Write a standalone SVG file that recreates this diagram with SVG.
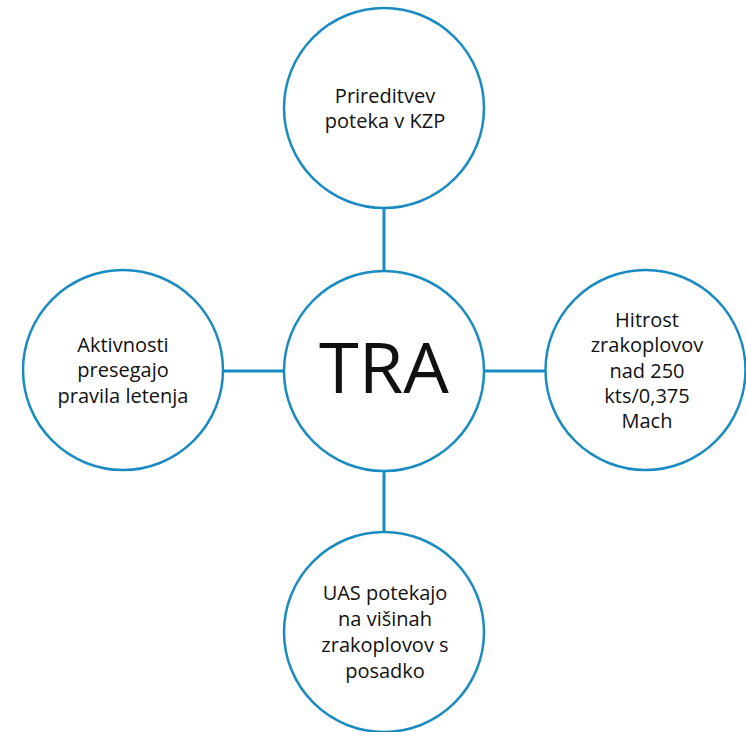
<svg xmlns="http://www.w3.org/2000/svg" width="746" height="732" viewBox="0 0 746 732">
<style>
.c{fill:#fff;stroke:#1a8bc1;stroke-width:2.5}
.l{stroke:#1a8bc1;stroke-width:3;fill:none}
.t{font-family:"Open Sans","Liberation Sans",Arial,sans-serif;font-size:20px;fill:#111;text-anchor:middle}
.big{font-family:"Open Sans","Liberation Sans",Arial,sans-serif;font-size:70px;fill:#111;text-anchor:middle}
</style>
<rect width="746" height="732" fill="#fff"/>
<g id="connectors">
<line class="l" x1="384" y1="209" x2="384" y2="270"/>
<line class="l" x1="224" y1="371" x2="284" y2="371"/>
<line class="l" x1="485" y1="371" x2="546" y2="371"/>
<line class="l" x1="384" y1="472" x2="384" y2="532"/>
</g>
<g id="top">
<circle class="c" cx="384" cy="108" r="100"/>
<text class="t" x="385" y="103">Prireditvev</text>
<text class="t" x="385" y="128">poteka v KZP</text>
</g>
<g id="center">
<circle class="c" cx="384" cy="371" r="100"/>
<text class="big" x="384" y="393" textLength="130" lengthAdjust="spacingAndGlyphs">TRA</text>
</g>
<g id="left">
<circle class="c" cx="123" cy="370" r="100"/>
<text class="t" x="123" y="352">Aktivnosti</text>
<text class="t" x="123" y="377">presegajo</text>
<text class="t" x="123" y="403">pravila letenja</text>
</g>
<g id="right">
<circle class="c" cx="645.5" cy="370" r="100"/>
<text class="t" x="647" y="327">Hitrost</text>
<text class="t" x="647" y="352">zrakoplovov</text>
<text class="t" x="647" y="378">nad 250</text>
<text class="t" x="647" y="403">kts/0,375</text>
<text class="t" x="647" y="428">Mach</text>
</g>
<g id="bottom">
<circle class="c" cx="384" cy="632" r="100"/>
<text class="t" x="385" y="600">UAS potekajo</text>
<text class="t" x="385" y="626">na višinah</text>
<text class="t" x="385" y="652">zrakoplovov s</text>
<text class="t" x="385" y="678">posadko</text>
</g>
</svg>
